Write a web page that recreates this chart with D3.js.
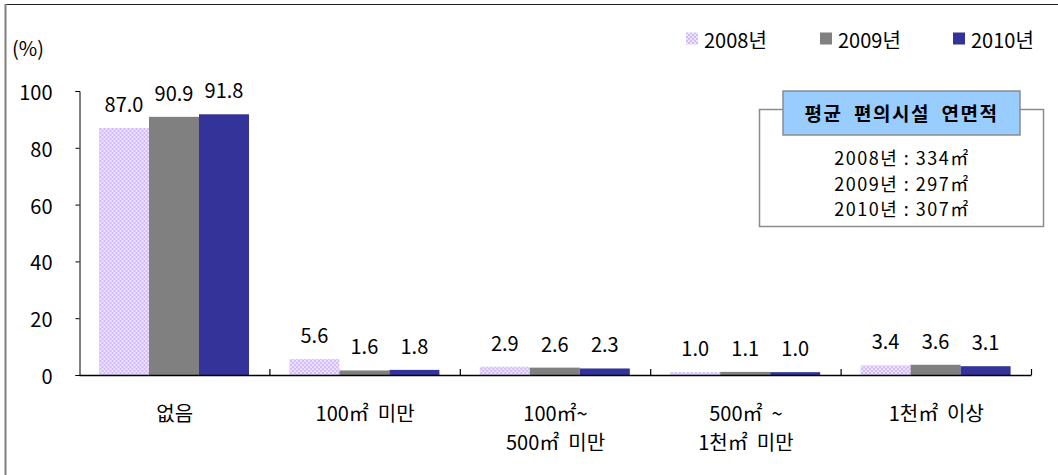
<!DOCTYPE html>
<html>
<head>
<meta charset="utf-8">
<script src="https://cdn.jsdelivr.net/npm/d3@7"></script>
<style>
  body { margin: 0; background: #fff; }
  svg { display: block; font-family: "Noto Sans CJK KR", "Noto Sans", sans-serif; }
  text { white-space: pre; }
</style>
</head>
<body>
<svg id="chart" width="1058" height="475"></svg>
<script>
// ---- data ----
const categories = ["없음", "100㎡  미만", "100㎡~\n500㎡  미만", "500㎡  ~\n1천㎡  미만", "1천㎡  이상"];
const seriesNames = ["2008년", "2009년", "2010년"];
const values2008 = [87.0, 5.6, 2.9, 1.0, 3.4];
const values2009 = [90.9, 1.6, 2.6, 1.1, 3.6];
const values2010 = [91.8, 1.8, 2.3, 1.0, 3.1];
const yTicks = [0, 20, 40, 60, 80, 100];
const boxTitle = "평균  편의시설  연면적";
const boxLines = ["2008년 : 334㎡", "2009년 : 297㎡", "2010년 : 307㎡"];

const seriesValues = [values2008, values2009, values2010];
const colors = ["url(#pat2008)", "#808080", "#333399"];

const svg = d3.select("#chart");

// pattern for 2008
const defs = svg.append("defs");
const pat = defs.append("pattern").attr("id", "pat2008").attr("patternUnits", "userSpaceOnUse")
  .attr("width", 4).attr("height", 4);
pat.append("rect").attr("width", 4).attr("height", 4).attr("fill", "#EDE3FF");
pat.append("rect").attr("x", 0).attr("y", 0).attr("width", 2).attr("height", 2).attr("fill", "#D3BBFA");
pat.append("rect").attr("x", 2).attr("y", 2).attr("width", 2).attr("height", 2).attr("fill", "#D3BBFA");

// outer frame (top + left)
svg.append("line").attr("x1", 5).attr("x2", 1058).attr("y1", 4.5).attr("y2", 4.5)
  .attr("stroke", "#222").attr("stroke-width", 1.2);
svg.append("line").attr("x1", 5.5).attr("x2", 5.5).attr("y1", 4).attr("y2", 475)
  .attr("stroke", "#808080").attr("stroke-width", 2);

// scales
const x0 = d3.scaleBand().domain(categories).range([79.5, 1031.5]).paddingInner(0).paddingOuter(0);
const x1 = d3.scaleBand().domain(seriesNames).range([19.5, 169.5]).padding(0);
const y = d3.scaleLinear().domain([0, 100]).range([375, 91]);

// bars
const groups = svg.append("g").selectAll("g").data(categories).join("g")
  .attr("transform", d => `translate(${x0(d)},0)`);

groups.selectAll("rect")
  .data((c, i) => seriesNames.map((s, j) => ({ s, v: seriesValues[j][i], j })))
  .join("rect")
  .attr("x", d => x1(d.s))
  .attr("width", x1.bandwidth())
  .attr("y", d => y(d.v))
  .attr("height", d => y(0) - y(d.v))
  .attr("fill", d => colors[d.j]);

groups.selectAll("text.val")
  .data((c, i) => seriesNames.map((s, j) => ({ s, v: seriesValues[j][i], j })))
  .join("text")
  .attr("class", "val")
  .attr("x", d => x1(d.s) + x1.bandwidth() / 2)
  .attr("y", d => y(d.v) - 16)
  .attr("text-anchor", "middle")
  .attr("font-size", 20)
  .attr("fill", "#000")
  .text(d => d.v.toFixed(1));

// y axis
const yAxis = d3.axisLeft(y).tickValues(yTicks).tickSize(4).tickSizeOuter(4).tickPadding(23);
const yg = svg.append("g").attr("transform", "translate(79.5,0)").call(yAxis);
yg.selectAll("path, line").attr("stroke", "#000");
yg.selectAll("text").attr("font-size", 20).attr("font-family", '"Noto Sans CJK KR", sans-serif')
  .attr("fill", "#000").attr("dy", "0.42em");

// (%) label
svg.append("text").attr("x", 12).attr("y", 56).attr("font-size", 20).text("(%)");

// x axis
svg.append("line").attr("x1", x0.range()[0]).attr("x2", x0.range()[1])
  .attr("y1", y(0) + 0.5).attr("y2", y(0) + 0.5).attr("stroke", "#000").attr("stroke-width", 1.5);
const boundaries = categories.map(c => x0(c)).concat([x0.range()[1]]);
svg.append("g").selectAll("line").data(boundaries.slice(1)).join("line")
  .attr("x1", d => d).attr("x2", d => d)
  .attr("y1", y(0)).attr("y2", y(0) - 6)
  .attr("stroke", "#000").attr("stroke-width", 1.2);

// category labels
const catG = svg.append("g").selectAll("text").data(categories).join("text")
  .attr("x", d => x0(d) + x0.bandwidth() / 2)
  .attr("y", 421)
  .attr("text-anchor", "middle")
  .attr("font-size", 20)
  .attr("fill", "#000");
catG.each(function(d) {
  const parts = d.split("\n");
  const t = d3.select(this);
  parts.forEach((p, i) => {
    t.append("tspan").attr("x", x0(d) + x0.bandwidth() / 2).attr("dy", i === 0 ? 0 : 29).text(p);
  });
});

// legend
const legendX = [686, 820, 953];
const lg = svg.append("g").selectAll("g").data(seriesNames).join("g")
  .attr("transform", (d, i) => `translate(${legendX[i]},0)`);
lg.append("rect").attr("x", 0).attr("y", 32.5).attr("width", 12).attr("height", 12)
  .attr("fill", (d, i) => colors[i]);
lg.append("text").attr("x", 18).attr("y", 47.5).attr("font-size", 20).attr("fill", "#000").text(d => d);

// info box
svg.append("rect").attr("x", 759.5).attr("y", 109.5).attr("width", 284).attr("height", 117)
  .attr("fill", "#fff").attr("stroke", "#8c8c8c").attr("stroke-width", 1.5);
svg.append("rect").attr("x", 783).attr("y", 91).attr("width", 237).attr("height", 44)
  .attr("fill", "#99CCFF").attr("stroke", "#8c8c8c").attr("stroke-width", 1.5);
svg.append("text").attr("x", 901.5).attr("y", 121).attr("text-anchor", "middle")
  .attr("font-size", 19).attr("font-weight", "bold").attr("letter-spacing", 1.5)
  .attr("fill", "#000").text(boxTitle);
svg.append("g").selectAll("text").data(boxLines).join("text")
  .attr("x", 902).attr("y", (d, i) => 165 + i * 25.5)
  .attr("text-anchor", "middle").attr("font-size", 18).attr("letter-spacing", 1.5)
  .attr("fill", "#000").text(d => d);
</script>
</body>
</html>
